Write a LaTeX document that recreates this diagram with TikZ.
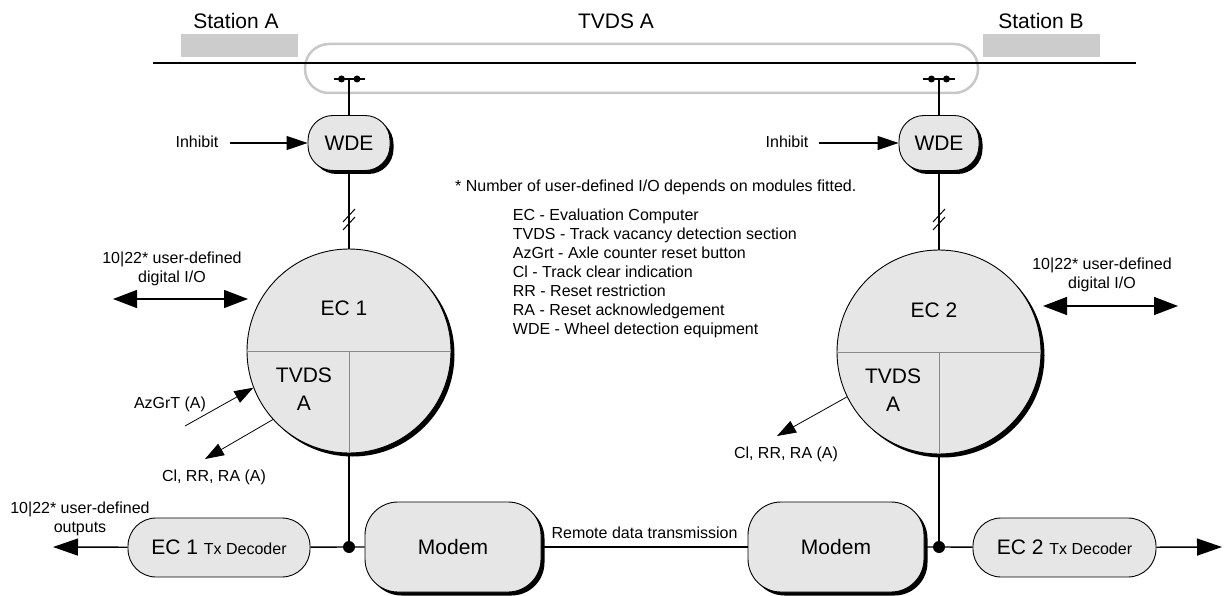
\documentclass[tikz,border=0pt]{standalone}
\usepackage{fontspec}
\setmainfont{Liberation Sans}
\usetikzlibrary{arrows.meta,shadows,calc}
\definecolor{boxgray}{HTML}{E6E6E6}
\definecolor{stgray}{HTML}{CCCCCC}
\definecolor{tvgray}{HTML}{C8C8C8}
\definecolor{divgray}{HTML}{888888}
\begin{document}
\begin{tikzpicture}[x=1pt,y=-1pt,
  bigt/.style={font=\fontsize{21}{28}\selectfont},
  smt/.style={font=\fontsize{16}{19}\selectfont},
  box/.style={draw=black, line width=0.9pt, fill=boxgray, inner sep=0pt},
  shad/.style={drop shadow={shadow xshift=3.5pt, shadow yshift=-3.5pt, fill=black, opacity=1}},
  conn/.style={line width=1.4pt},
  dotn/.style={circle, fill=black, inner sep=0pt, minimum size=#1},
  bigarrow/.style={line width=1.4pt, -{Triangle[length=25pt,width=17pt]}},
  dblarrow/.style={line width=1.4pt, {Triangle[length=24pt,width=18pt]}-{Triangle[length=24pt,width=18pt]}},
  midarrow/.style={line width=1.1pt, -{Triangle[length=21pt,width=14pt]}},
  thinarrow/.style={line width=0.8pt, -{Triangle[length=19pt,width=13pt]}},
  ecircle/.style={circle, draw=black, line width=0.9pt, fill=boxgray, shad, minimum size=204pt, inner sep=0pt},
  slash/.style={line width=1pt}
]
\useasboundingbox (0,0) rectangle (1224,596);

% track, stations, TVDS section
\node[draw=tvgray, line width=2.5pt, rounded corners=24pt, minimum width=673pt, minimum height=49pt, inner sep=0pt] (tvds) at (641.5,68.5) {};
\node[fill=stgray, minimum width=117pt, minimum height=23pt, inner sep=0pt] (stA) at (239.5,45.5) {};
\node[fill=stgray, minimum width=117pt, minimum height=23pt, inner sep=0pt] (stB) at (1041.5,45.5) {};
\node[bigt] (stAl) at (236,21) {Station A};
\node[bigt] (stBl) at (1041,21) {Station B};
\node[bigt] (tvdsl) at (616,21) {TVDS A};
\coordinate (trL) at (153,63);
\coordinate (trR) at (1136,63);
\draw[conn] (trL) -- (trR);

% sensors
\coordinate (s1) at (349,79);
\coordinate (s2) at (939,79);
\draw[line width=1.2pt] ($(s1)+(-15,0)$) -- ($(s1)+(16,0)$);
\draw[line width=1.2pt] ($(s2)+(-16,0)$) -- ($(s2)+(16,0)$);
\node[dotn=7pt] (s1a) at (341.5,79) {};
\node[dotn=7pt] (s1b) at (357,79) {};
\node[dotn=7pt] (s2a) at (931.5,79) {};
\node[dotn=7pt] (s2b) at (946.5,79) {};

% WDE
\node[box, shad, rounded corners=25pt, minimum width=82pt, minimum height=55pt, bigt] (wde1) at (349,143) {WDE};
\node[box, shad, rounded corners=25pt, minimum width=80pt, minimum height=55pt, bigt] (wde2) at (939,143) {WDE};
\draw[conn] (s1) -- (wde1);
\draw[conn] (s2) -- (wde2);

\node[smt, inner sep=0pt] (inh1) at (197,142) {Inhibit};
\node[smt, inner sep=0pt] (inh2) at (787,142) {Inhibit};
\draw[midarrow] ([xshift=11pt]inh1.east |- wde1.west) -- (wde1.west);
\draw[midarrow] ([xshift=10pt]inh2.east |- wde2.west) -- (wde2.west);

% evaluation computers
\node[ecircle] (ec1) at (349,351) {};
\node[ecircle] (ec2) at (939,352) {};
\draw[divgray, line width=0.9pt] (ec1.west) -- (ec1.east);
\draw[divgray, line width=0.9pt] (ec1.center) -- (ec1.south);
\draw[divgray, line width=0.9pt] (ec2.west) -- (ec2.east);
\draw[divgray, line width=0.9pt] (ec2.center) -- (ec2.south);
\node[bigt] (ec1t) at (344,308) {EC 1};
\node[bigt] (ec2t) at (934,310) {EC 2};
\node[bigt, align=center] (tv1) at (304,389) {TVDS\\A};
\node[bigt, align=center] (tv2) at (893,390) {TVDS\\A};

\draw[conn] (wde1) -- (ec1);
\draw[conn] (wde2) -- (ec2);
\draw[slash] (343,222) -- (355,209);
\draw[slash] (343,230) -- (355,217);
\draw[slash] (933,222) -- (945,209);
\draw[slash] (933,230) -- (945,217);

% digital I/O
\node[smt, align=center] (io1t) at (172,269) {10|22* user-defined\\digital I/O};
\node[smt, align=center] (io2t) at (1102,275) {10|22* user-defined\\digital I/O};
\coordinate (io1a) at (113,299);
\coordinate (io1b) at (248,299);
\coordinate (io2a) at (1043,306);
\coordinate (io2b) at (1178,306);
\draw[dblarrow] (io1a) -- (io1b);
\draw[dblarrow] (io2a) -- (io2b);

% AzGrT and Cl
\node[smt] (az1t) at (170,404) {AzGrT (A)};
\coordinate (az1s) at (185,426);
\draw[thinarrow] (az1s) -- (ec1.201);
\coordinate (cl1e) at (205,459);
\coordinate (cl2e) at (777,436);
\draw[thinarrow] (ec1.222) -- (cl1e);
\draw[thinarrow] (ec2.206) -- (cl2e);
\node[smt] (cl1t) at (214,477) {Cl, RR, RA (A)};
\node[smt] (cl2t) at (786,454) {Cl, RR, RA (A)};

% legend
\node[smt, anchor=base west, inner sep=0pt] (note) at (455,191.5) {* Number of user-defined I/O depends on modules fitted.};
\node[smt, anchor=north west, inner sep=0pt, align=left] (legend) at (512.7,209) {EC - Evaluation Computer\\TVDS - Track vacancy detection section\\AzGrt - Axle counter reset button\\Cl - Track clear indication\\RR - Reset restriction\\RA - Reset acknowledgement\\WDE - Wheel detection equipment};

% bottom row
\node[dotn=12pt] (j1) at (349,547) {};
\node[dotn=12pt] (j2) at (939,547) {};
\node[box, rounded corners=28pt, minimum width=182pt, minimum height=59pt, bigt] (tx1) at (219,547.5) {EC 1 {\fontsize{16}{19}\selectfont Tx Decoder}};
\node[box, rounded corners=28pt, minimum width=183pt, minimum height=59pt, bigt] (tx2) at (1064.5,547.5) {EC 2 {\fontsize{16}{19}\selectfont Tx Decoder}};
\node[box, shad, rounded corners=33pt, minimum width=176pt, minimum height=90pt, bigt] (m1) at (453,547) {Modem};
\node[box, shad, rounded corners=33pt, minimum width=176pt, minimum height=90pt, bigt] (m2) at (836,547) {Modem};

\draw[conn] (ec1) -- (j1);
\draw[conn] (ec2) -- (j2);
\draw[conn] (tx1) -- (j1) -- (m1);
\draw[conn] (m1) -- node[smt, above=4pt] (rdt) {Remote data transmission} (m2);
\draw[conn] (m2) -- (j2) -- (tx2);

\node[smt, align=center] (out1t) at (80,519) {10|22* user-defined\\outputs};
\coordinate (o1) at (53,547);
\coordinate (o2) at (1222,547);
\draw[bigarrow] (tx1) -- (o1);
\draw[bigarrow] (tx2) -- (o2);
\end{tikzpicture}
\end{document}
